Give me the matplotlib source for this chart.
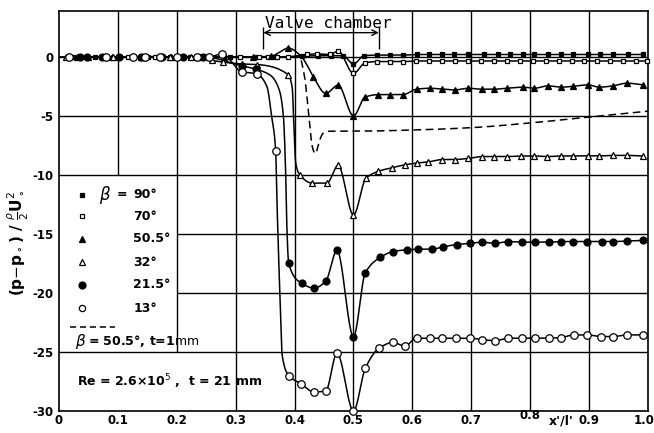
import numpy as np
import matplotlib
matplotlib.use('Agg')
import matplotlib.pyplot as plt
from matplotlib.transforms import ScaledTranslation

plt.rcParams['font.family'] = ['Liberation Sans Narrow', 'DejaVu Sans']
plt.rcParams['mathtext.fontset'] = 'dejavusans'

# ---- data: x'/l' and (p-p0)/(rho/2 U0^2) ----
x90 = [0.024, 0.061, 0.104, 0.151, 0.188, 0.222, 0.245, 0.29, 0.333, 0.367,
       0.413, 0.44, 0.462, 0.482, 0.5, 0.518, 0.54, 0.562, 0.584,
       0.607, 0.628, 0.650, 0.671, 0.694, 0.722, 0.745, 0.766, 0.787, 0.806,
       0.830, 0.852, 0.873, 0.898, 0.919, 0.941, 0.966, 0.991]
y90 = [0.0, 0.0, 0.0, 0.0, 0.0, 0.0, 0.0, 0.0, 0.0, 0.0,
       0.05, 0.1, 0.1, 0.1, -0.6, 0.1, 0.15, 0.15, 0.15,
       0.2, 0.2, 0.2, 0.2, 0.2, 0.2, 0.2, 0.2, 0.2, 0.2,
       0.2, 0.2, 0.2, 0.2, 0.2, 0.2, 0.2, 0.2]

x70 = [0.036, 0.073, 0.117, 0.163, 0.21, 0.25, 0.307, 0.34, 0.355, 0.37,
       0.389, 0.421, 0.438, 0.46, 0.474, 0.5, 0.52, 0.54, 0.562, 0.584,
       0.606, 0.628, 0.650, 0.672, 0.694, 0.716, 0.738, 0.76, 0.782, 0.804,
       0.826, 0.848, 0.87, 0.892, 0.914, 0.936, 0.958, 0.98, 0.998]
y70 = [0.0, 0.0, 0.0, 0.0, 0.0, 0.0, 0.0, 0.0, 0.0, 0.0,
       0.0, 0.2, 0.25, 0.2, 0.5, -1.4, -0.5, -0.4, -0.4, -0.4,
       -0.35, -0.35, -0.35, -0.35, -0.35, -0.35, -0.35, -0.35, -0.35, -0.35,
       -0.35, -0.35, -0.35, -0.35, -0.35, -0.35, -0.35, -0.35, -0.35]

x50 = [0.03, 0.09, 0.14, 0.19, 0.24, 0.28, 0.33, 0.36, 0.389,
       0.432, 0.453, 0.474, 0.5, 0.52, 0.542, 0.562, 0.584,
       0.607, 0.63, 0.651, 0.672, 0.695, 0.718, 0.739, 0.76, 0.787,
       0.807, 0.83, 0.852, 0.872, 0.898, 0.917, 0.94, 0.964, 0.991]
y50 = [0.0, 0.0, 0.0, 0.0, 0.0, 0.0, 0.0, 0.05, 0.75,
       -1.7, -3.1, -2.4, -5.0, -3.4, -3.2, -3.2, -3.2,
       -2.74, -2.66, -2.74, -2.8, -2.66, -2.74, -2.74, -2.66, -2.57,
       -2.66, -2.46, -2.57, -2.5, -2.37, -2.57, -2.46, -2.23, -2.37]
k50x = [0.375, 0.412, 0.42]
k50y = [0.4, 0.0, -0.6]

x32 = [0.012, 0.05, 0.092, 0.141, 0.188, 0.225, 0.26, 0.279, 0.31, 0.336,
       0.389, 0.409, 0.43, 0.455, 0.474, 0.5, 0.521, 0.542, 0.565, 0.587,
       0.607, 0.627, 0.651, 0.672, 0.695, 0.718, 0.739, 0.76, 0.784, 0.807,
       0.828, 0.852, 0.873, 0.898, 0.917, 0.94, 0.964, 0.991]
y32 = [0.0, 0.0, 0.0, 0.0, 0.0, 0.0, -0.3, -0.45, -0.6, -0.65,
       -1.5, -10.0, -10.7, -10.7, -9.2, -13.4, -10.3, -9.7, -9.4, -9.15,
       -9.0, -8.9, -8.7, -8.7, -8.6, -8.45, -8.45, -8.45, -8.4, -8.4,
       -8.45, -8.4, -8.4, -8.4, -8.4, -8.35, -8.35, -8.4]
k32x = [0.396, 0.399, 0.402]
k32y = [-2.6, -6.0, -9.0]

x21 = [0.036, 0.048, 0.073, 0.102, 0.14, 0.175, 0.21, 0.245, 0.31, 0.335,
       0.39, 0.413, 0.433, 0.453, 0.472, 0.5, 0.52, 0.545, 0.567, 0.59,
       0.61, 0.633, 0.652, 0.675, 0.698, 0.718, 0.740, 0.763, 0.786, 0.808,
       0.831, 0.853, 0.873, 0.897, 0.921, 0.941, 0.964, 0.992]
y21 = [0.0, 0.0, 0.0, 0.0, 0.0, 0.0, 0.0, 0.0, -0.75, -1.05,
       -17.5, -19.2, -19.6, -19.0, -16.4, -23.7, -18.3, -17.0, -16.5, -16.35,
       -16.3, -16.3, -16.1, -15.9, -15.8, -15.7, -15.8, -15.65, -15.7, -15.7,
       -15.7, -15.65, -15.65, -15.65, -15.65, -15.65, -15.6, -15.55]
k21x = [0.36, 0.374, 0.381, 0.385, 0.387]
k21y = [-1.6, -2.8, -5.0, -10.0, -14.5]

x13 = [0.017, 0.08, 0.125, 0.146, 0.171, 0.2, 0.235, 0.255, 0.277, 0.31,
       0.336, 0.368, 0.39, 0.411, 0.433, 0.453, 0.472, 0.5, 0.52, 0.543,
       0.567, 0.587, 0.607, 0.63, 0.651, 0.674, 0.697, 0.718, 0.74, 0.763,
       0.786, 0.808, 0.831, 0.852, 0.874, 0.897, 0.92, 0.941, 0.964, 0.991]
y13 = [0.0, 0.0, 0.0, 0.0, 0.0, 0.0, 0.0, 0.0, 0.25, -1.25,
       -1.45, -8.0, -27.0, -27.7, -28.4, -28.3, -25.1, -30.0, -26.4, -24.7,
       -24.2, -24.5, -23.84, -23.84, -23.84, -23.84, -23.84, -23.95, -24.05, -23.84,
       -23.84, -23.84, -23.84, -23.78, -23.56, -23.56, -23.7, -23.7, -23.56, -23.56]
k13x = [0.353, 0.361, 0.370, 0.375, 0.379]
k13y = [-2.5, -5.0, -12.0, -20.0, -25.3]

# beta = 50.5 deg, t = 1 mm (dashed, no markers)
xd = [0.0, 0.3, 0.408, 0.416, 0.424, 0.43, 0.435, 0.443, 0.448, 0.46,
      0.5, 0.6, 0.7, 0.8, 0.9, 1.0]
yd = [0.0, 0.0, 0.0, -1.4, -4.8, -7.6, -8.2, -7.0, -6.5, -6.3,
      -6.3, -6.2, -6.0, -5.6, -5.1, -4.6]

xticks = [0, 0.1, 0.2, 0.3, 0.4, 0.5, 0.6, 0.7, 0.8, 0.9, 1.0]
xticklabels = ['0', '0.1', '0.2', '0.3', '0.4', '0.5', '0.6', '0.7', '0.8', '0.9', '1.0']
yticks = [0, -5, -10, -15, -20, -25, -30]
yticklabels = ['0', '-5', '-10', '-15', '-20', '-25', '-30']


def pchip(xk, yk, n=3000):
    # monotone cubic through the points, keeps the steep drops from overshooting
    xk = np.asarray(xk, float)
    yk = np.asarray(yk, float)
    h = np.diff(xk)
    d = np.diff(yk) / h
    m = np.zeros_like(yk)
    m[0] = d[0]
    m[-1] = d[-1]
    for k in range(1, len(xk) - 1):
        if d[k - 1] * d[k] > 0:
            w1 = 2 * h[k] + h[k - 1]
            w2 = h[k] + 2 * h[k - 1]
            m[k] = (w1 + w2) / (w1 / d[k - 1] + w2 / d[k])
    xs = np.linspace(xk[0], xk[-1], n)
    i = np.clip(np.searchsorted(xk, xs) - 1, 0, len(h) - 1)
    t = (xs - xk[i]) / h[i]
    ys = ((2 * t**3 - 3 * t**2 + 1) * yk[i] + (t**3 - 2 * t**2 + t) * h[i] * m[i]
          + (-2 * t**3 + 3 * t**2) * yk[i + 1] + (t**3 - t**2) * h[i] * m[i + 1])
    return xs, ys


def curve(x, y, kx=(), ky=()):
    xx = np.concatenate([x, kx])
    yy = np.concatenate([y, ky])
    o = np.argsort(xx)
    return pchip(xx[o], yy[o])


fig = plt.figure(figsize=(6.54, 4.33), dpi=100)
ax = fig.add_axes([0.090, 0.051, 0.901, 0.924])
ax.set_xlim(0, 1.0)
ax.set_ylim(-30, 3.9)

# grid, left open where the legend and the Re note sit
gl = dict(color='black', lw=1.0, zorder=1)
ax.vlines(0.1, -10, 3.9, **gl)
ax.vlines(0.2, -25, 3.9, **gl)
ax.vlines([0.3, 0.4, 0.5, 0.6, 0.7, 0.8, 0.9], -30, 3.9, **gl)
ax.hlines([0, -5, -10, -25], 0, 1.0, **gl)
ax.hlines([-15, -20], 0.2, 1.0, **gl)

lk = dict(color='black', lw=1.1, zorder=3)
ax.plot(*curve(x90, y90), **lk)
ax.plot(*curve(x70, y70), **lk)
ax.plot(*curve(x50, y50, k50x, k50y), **lk)
ax.plot(*curve(x32, y32, k32x, k32y), **lk)
ax.plot(*curve(x21, y21, k21x, k21y), **lk)
ax.plot(*curve(x13, y13, k13x, k13y), **lk)
ax.plot(*pchip(xd, yd), color='black', lw=1.1, ls=(0, (5, 3)), zorder=3)

mk = dict(ls='none', color='black', mec='black', mew=0.9, zorder=4, clip_on=False)
ax.plot(x90, y90, marker='s', ms=3.2, mfc='black', **mk)
ax.plot(x70, y70, marker='s', ms=3.5, mfc='white', **mk)
ax.plot(x50, y50, marker='^', ms=4.8, mfc='black', **mk)
ax.plot(x32, y32, marker='^', ms=4.8, mfc='white', **mk)
ax.plot(x21, y21, marker='o', ms=5.0, mfc='black', **mk)
ax.plot(x13, y13, marker='o', ms=5.4, mfc='white', **mk)

# hand-drawn style legend
tk = dict(fontsize=9, fontweight='bold', va='center', ha='left')
rows = [('s', 'black', 3.2, '90°', -11.7), ('s', 'white', 3.5, '70°', -13.5),
        ('^', 'black', 4.8, '50.5°', -15.4), ('^', 'white', 4.8, '32°', -17.4),
        ('o', 'black', 5.0, '21.5°', -19.3), ('o', 'white', 4.5, '13°', -21.3)]
for m, fc, s, lab, yy in rows:
    ax.plot([0.04], [yy], marker=m, ms=s, mfc=fc, **mk)
    ax.text(0.126, yy, lab, **tk)
ax.text(0.068, -11.7, r'$\beta$', fontsize=12, va='center', ha='left')
ax.text(0.098, -11.7, '=', **tk)
ax.plot([0.019, 0.095], [-22.9, -22.9], color='black', lw=1.1, ls=(0, (4, 2.5)))
ax.text(0.027, -24.1, r'$\beta$', fontsize=11, va='center', ha='left')
ax.text(0.05, -24.1, '= 50.5°, t=1$\\mathrm{mm}$', **tk)
ax.text(0.03, -27.5, 'Re = 2.6×10$^5$ ,  t = 21 mm', **tk)

# valve chamber marker
ax.annotate('', xy=(0.347, 2.05), xytext=(0.543, 2.05),
            arrowprops=dict(arrowstyle='<->', lw=1.0, color='black',
                            shrinkA=0, shrinkB=0))
ax.vlines([0.347, 0.543], 0.7, 2.5, color='black', lw=1.0)
ax.text(0.457, 2.85, 'Valve chamber', family='DejaVu Sans Mono', fontsize=11.6,
        ha='center', va='center')

ax.set_xticks(xticks)
ax.set_xticklabels(xticklabels)
ax.set_yticks(yticks)
ax.set_yticklabels(yticklabels)
ax.tick_params(length=0, labelsize=8.5, pad=2)
for lab in ax.get_xticklabels() + ax.get_yticklabels():
    lab.set_fontweight('bold')
ax.tick_params(axis='y', pad=4)
xl = ax.get_xticklabels()
# the 0.8 label sits a little higher, next to the axis name
xl[8].set_transform(xl[8].get_transform() + ScaledTranslation(0, 3.5 / 72, fig.dpi_scale_trans))
xl[10].set_transform(xl[10].get_transform() + ScaledTranslation(-3 / 72, 0, fig.dpi_scale_trans))
ax.text(0.853, -0.026, "x'/l'", transform=ax.get_xaxis_transform(),
        fontsize=9, fontweight='bold', ha='center', va='center')

ax.set_ylabel(r'(p$-$p$_\circ$) / $\frac{\rho}{2}$U$_\circ^2$', fontsize=11, fontweight='bold')
ax.yaxis.set_label_coords(-0.047, 0.42)

for sp in ax.spines.values():
    sp.set_linewidth(1.2)

fig.savefig('out.png', dpi=100)
